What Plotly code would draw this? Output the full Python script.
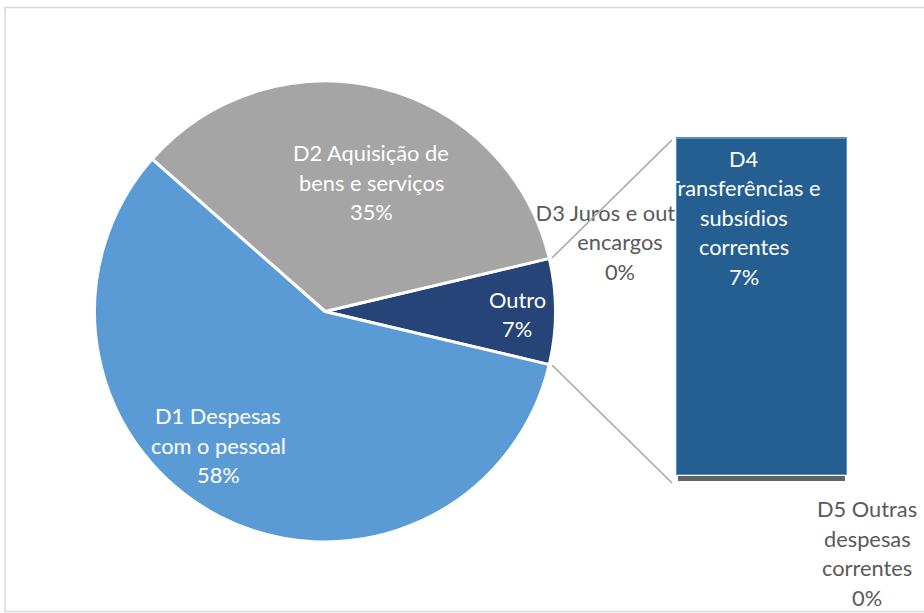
import math
import plotly.graph_objects as go

W, H = 924, 613

# ---- data ----
pie_labels = ["Outro", "D2 Aquisição de<br>bens e serviços", "D1 Despesas<br>com o pessoal"]
pie_values_main = [34.8, 57.8]            # D2, D1 (percent of total)
bar_labels = ["D5 Outras<br>despesas<br>correntes",
              "D4<br>Transferências e<br>subsídios<br>correntes",
              "D3 Juros e outros<br>encargos"]
bar_values = [0.17, 7.2, 0.03]            # D5, D4, D3 (stacked bottom -> top)
outro_value = sum(bar_values)
pie_values = [outro_value] + pie_values_main

pie_colors = ["#264478", "#A5A5A5", "#5B9BD5"]
bar_colors = ["#636363", "#255E91", "#255E91"]

FONT = "Lato"
FS = 21.8
LINE = 29.5

# ---- geometry (pixels) ----
cx, cy, r = 325, 311.5, 230.5
bar_l, bar_r, bar_top, bar_bot = 677, 847, 138, 483

def px(x):
    return x / W

def py(y):
    return 1 - y / H

fig = go.Figure()

# D3 label (drawn beneath the bar, as in the original)
d3_lines = (bar_labels[2] + "<br>" + f"{round(bar_values[2])}%").split("<br>")
d3_cx, d3_cy = 620, 245
fig.add_trace(go.Scatter(
    x=[d3_cx] * len(d3_lines),
    y=[d3_cy + (i - (len(d3_lines) - 1) / 2) * LINE for i in range(len(d3_lines))],
    mode="text", text=d3_lines, textposition="middle center",
    textfont=dict(family=FONT, size=FS, color="#595959"),
    hoverinfo="skip", showlegend=False, cliponaxis=False,
    xaxis="x", yaxis="y"))

# bar of pie
for lab, val, col in zip(bar_labels, bar_values, bar_colors):
    is_d5 = lab.startswith("D5")
    fig.add_trace(go.Bar(
        x=[0], y=[val], width=1, marker=dict(color=col,
            line=dict(color="white" if is_d5 else "#5B8FC4", width=3 if is_d5 else 1)),
        hoverinfo="skip", showlegend=False, xaxis="x2", yaxis="y2"))

# pie
half = outro_value / 100 * 360 / 2
fig.add_trace(go.Pie(
    labels=pie_labels, values=pie_values, sort=False, direction="counterclockwise",
    rotation=90 - half, marker=dict(colors=pie_colors, line=dict(color="white", width=3)),
    textinfo="none", hoverinfo="skip", showlegend=False,
    domain=dict(x=[px(cx - r), px(cx + r)], y=[py(cy + r), py(cy - r)])))

total = sum(bar_values)
ppu_x = bar_r - bar_l
ppu_y = (bar_bot - bar_top) / total

fig.update_layout(
    width=W, height=H, margin=dict(l=0, r=0, t=0, b=0),
    paper_bgcolor="white", plot_bgcolor="rgba(0,0,0,0)",
    barmode="stack", bargap=0,
    xaxis=dict(domain=[0, 1], range=[0, W], visible=False, fixedrange=True),
    yaxis=dict(domain=[0, 1], range=[H, 0], visible=False, fixedrange=True),
    xaxis2=dict(overlaying="x", range=[-0.5 - bar_l / ppu_x, -0.5 + (W - bar_l) / ppu_x],
                visible=False, fixedrange=True),
    yaxis2=dict(overlaying="y", range=[-(H - bar_bot) / ppu_y, total + bar_top / ppu_y],
                visible=False, fixedrange=True),
    font=dict(family=FONT, size=FS),
)

# connector lines from pie edges to bar corners
for sgn, by in ((1, bar_top + 2), (-1, bar_bot)):
    a = math.radians(sgn * half)
    x0 = cx + (r + 3) * math.cos(a)
    y0 = cy - (r + 3) * math.sin(a)
    fig.add_shape(type="line", xref="paper", yref="paper",
                  x0=px(x0), y0=py(y0), x1=px(bar_l - 5), y1=py(by),
                  line=dict(color="#A5A5A5", width=1.5), layer="above")

# chart border
fig.add_shape(type="rect", xref="paper", yref="paper",
              x0=px(5), y0=py(611.5), x1=px(W + 5), y1=py(7.5),
              line=dict(color="#D9D9D9", width=1.5), layer="above")

def add_label(text, x, y, color):
    lines = text.split("<br>")
    n = len(lines)
    for i, ln in enumerate(lines):
        fig.add_annotation(text=ln, xref="paper", yref="paper",
                           x=px(x), y=py(y + (i - (n - 1) / 2) * LINE),
                           showarrow=False, xanchor="center", yanchor="middle",
                           font=dict(family=FONT, size=FS, color=color))

# pie labels
pie_pos = [(517, 314), (371, 182), (218, 445)]
for lab, val, (x, y) in zip(pie_labels, pie_values, pie_pos):
    add_label(f"{lab}<br>{round(val)}%", x, y, "white")

# bar labels (D5, D4)
add_label(f"{bar_labels[1]}<br>{round(bar_values[1])}%", 744, 217, "white")
add_label(f"{bar_labels[0]}<br>{round(bar_values[0])}%", 867, 553, "#595959")

fig.write_html("out.html", config={"displayModeBar": False},
               post_script="document.body.style.margin='0';document.body.style.overflow='hidden';")
